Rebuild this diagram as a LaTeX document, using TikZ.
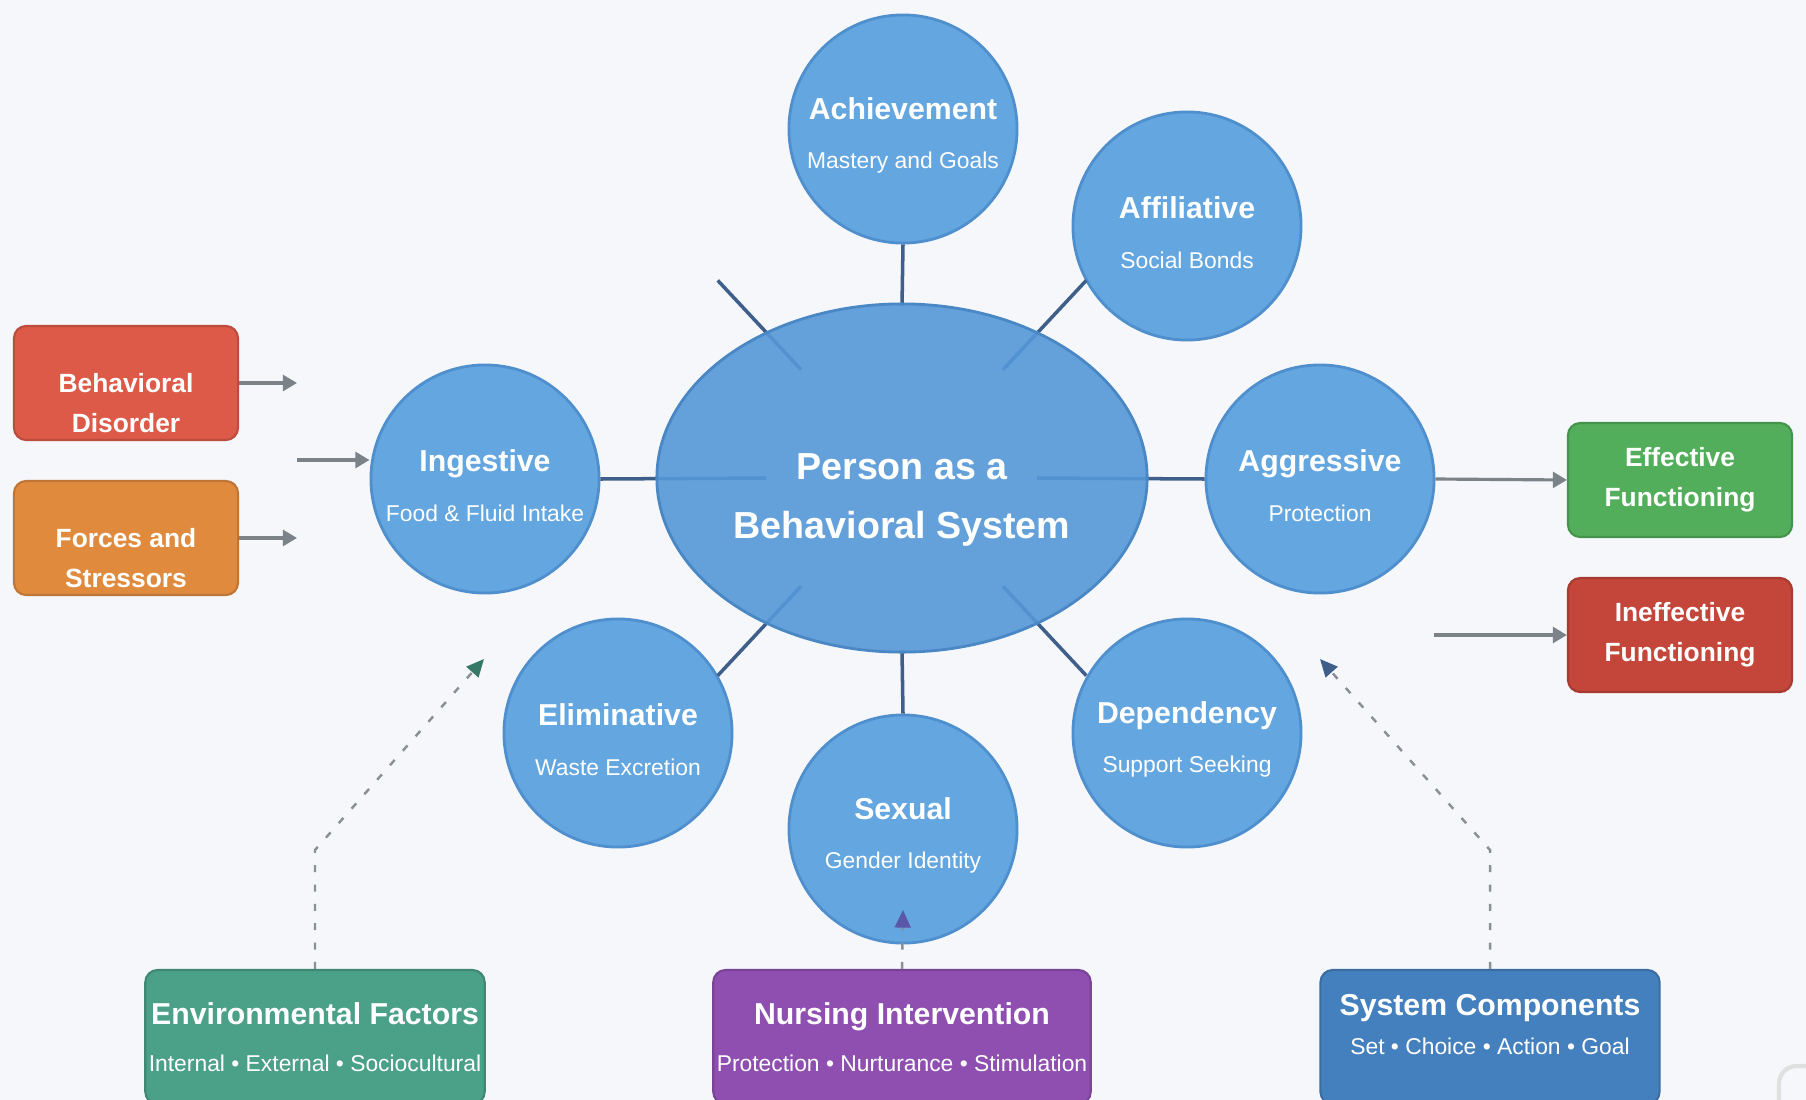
\documentclass[tikz,border=0pt]{standalone}
\usepackage{fontspec}
\setmainfont{Liberation Sans}
\usetikzlibrary{shapes.geometric,arrows.meta,calc}
\definecolor{bgcol}{HTML}{F5F7FA}
\definecolor{circfill}{HTML}{64A6E0}
\definecolor{circedge}{HTML}{4F8FCE}
\definecolor{corefill}{HTML}{5598D8}
\definecolor{coreedge}{HTML}{4A87C5}
\definecolor{spokecol}{HTML}{3F5F8A}
\definecolor{arrowgray}{HTML}{7B8389}
\definecolor{dashgray}{HTML}{8A9095}
\definecolor{disorderred}{HTML}{DD5A48}
\definecolor{forcesorange}{HTML}{E08A3E}
\definecolor{effgreen}{HTML}{52AE5A}
\definecolor{ineffred}{HTML}{C4453A}
\definecolor{envteal}{HTML}{4BA088}
\definecolor{nursepurple}{HTML}{8E4FB0}
\definecolor{nursetip}{HTML}{5A57A8}
\definecolor{sysblue}{HTML}{4580BE}
\newcommand{\subtxt}[1]{{\fontsize{6.5}{8}\selectfont\mdseries #1}}

\begin{document}
\begin{tikzpicture}[x=0.01cm,y=-0.01cm,
		subsys/.style={circle, minimum size=2.28cm, inner sep=0pt, fill=circfill,
			draw=circedge, line width=0.8pt, text=white, align=center, text height=24pt,
			font=\fontsize{8.6}{10}\selectfont\bfseries},
		core/.style={ellipse, minimum width=4.9cm, minimum height=3.48cm, inner sep=0pt,
			fill=corefill, fill opacity=0.9, draw=coreedge, line width=0.8pt},
		sidebox/.style={rectangle, rounded corners=3.5pt, minimum width=2.24cm,
			minimum height=1.14cm, inner ysep=0pt, line width=0.6pt, text=white, align=center,
			font=\fontsize{7.5}{11.4}\selectfont\bfseries},
		lowtext/.style={text height=28.3pt},
		basebox/.style={rectangle, rounded corners=3.5pt, minimum height=1.34cm,
			inner xsep=1pt, line width=0.6pt, text=white, align=center,
			font=\fontsize{8.6}{10}\selectfont\bfseries},
		spoke/.style={draw=spokecol, line width=1pt},
		flow/.style={draw=arrowgray, line width=0.9pt, -{Triangle[length=4pt,width=4.5pt]}},
		influence/.style={draw=dashgray, line width=0.7pt, dash pattern=on 2pt off 3.5pt}]

	\useasboundingbox (0,0) rectangle (1806,1100);
	\clip (0,0) rectangle (1806,1100);
	\fill[bgcol] (0,0) rectangle (1806,1100);

	\node[subsys] (achieve) at (903,129) {Achievement\\[4pt]\subtxt{Mastery and Goals}};
	\node[subsys] (affil) at (1187,226) {Affiliative\\[4pt]\subtxt{Social Bonds}};
	\node[subsys] (ingest) at (485,479) {Ingestive\\[4pt]\subtxt{Food \& Fluid Intake}};
	\node[subsys] (aggress) at (1320,479) {Aggressive\\[4pt]\subtxt{Protection}};
	\node[subsys] (elim) at (618,733) {Eliminative\\[4pt]\subtxt{Waste Excretion}};
	\node[subsys] (depend) at (1187,733) {Dependency\\[4pt]\subtxt{Support Seeking}};
	\node[subsys] (sexual) at (903,829) {Sexual\\[4pt]\subtxt{Gender Identity}};

	\coordinate (mid) at (902,478);
	\foreach \ang/\nm in {47/ne,133/nw,227/sw,313/se} {
		\coordinate (\nm in) at ($(mid)+(\ang:1.48cm)$);
		\coordinate (\nm out) at ($(mid)+(\ang:2.70cm)$);
		\draw[spoke] (\nm in) -- (\nm out);
	}
	\draw[spoke] ($(mid)+(-1.36cm,0)$) -- (ingest.east);
	\draw[spoke] ($(mid)+(1.35cm,0)$) -- (aggress.west);
	\draw[spoke] (achieve.south) -- ($(mid)+(0,1.72cm)$);
	\draw[spoke] (sexual.north) -- ($(mid)+(0,-1.72cm)$);

	\node[core] (person) at (mid) {};
	\node[text=white, align=center, font=\fontsize{10.7}{16.8}\selectfont\bfseries]
		(persontext) at (902,500) {Person as a\\Behavioral System};

	\node[sidebox, lowtext, fill=disorderred, draw=disorderred!85!black] (disorder) at (126,383) {Behavioral\\Disorder};
	\node[sidebox, lowtext, fill=forcesorange, draw=forcesorange!85!black] (forces) at (126,538) {Forces and\\Stressors};
	\node[sidebox, fill=effgreen, draw=effgreen!85!black] (effective) at (1680,480) {Effective\\Functioning};
	\node[sidebox, fill=ineffred, draw=ineffred!85!black] (ineffective) at (1680,635) {Ineffective\\Functioning};

	\node[basebox, fill=envteal, draw=envteal!85!black, minimum width=3.38cm] (env) at (315,1037)
		{Environmental Factors\\[3.5pt]\subtxt{Internal • External • Sociocultural}};
	\node[basebox, fill=nursepurple, draw=nursepurple!85!black, minimum width=3.75cm] (nursing) at (902,1037)
		{Nursing Intervention\\[3.5pt]\subtxt{Protection • Nurturance • Stimulation}};
	\node[basebox, fill=sysblue, draw=sysblue!85!black, minimum width=3.39cm, text depth=7pt] (system) at (1490,1037)
		{System Components\\[1pt]\subtxt{Set • Choice • Action • Goal}};

	\coordinate (disorderend) at (297,383);
	\coordinate (forcesend) at (297,538);
	\coordinate (ingeststart) at (297,460);
	\coordinate (ineffstart) at (1434,635);
	\draw[flow] (disorder.east) -- (disorderend);
	\draw[flow] (forces.east) -- (forcesend);
	\draw[flow] (ingeststart) -- (ingeststart -| ingest.west);
	\draw[flow] (aggress.east) -- (effective.west);
	\draw[flow] (ineffstart) -- (ineffective.west);

	\coordinate (envbend) at (315,850);
	\coordinate (envtip) at (484,659);
	\coordinate (nurseend) at (903,910);
	\coordinate (sysbend) at (1490,850);
	\coordinate (systip) at (1320,659);
	\draw[influence, -{Triangle[length=5pt,width=4.5pt,color=envteal!75!black]}] (env.north) -- (envbend) -- (envtip);
	\draw[influence, -{Triangle[length=5pt,width=4.5pt,color=nursetip]}] (nursing.north) -- (nurseend);
	\draw[influence, -{Triangle[length=5pt,width=4.5pt,color=spokecol]}] (system.north) -- (sysbend) -- (systip);

	\draw[black!12, line width=1.2pt, rounded corners=5pt] (1779,1100) -- (1779,1066) -- (1806,1066);
\end{tikzpicture}
\end{document}
